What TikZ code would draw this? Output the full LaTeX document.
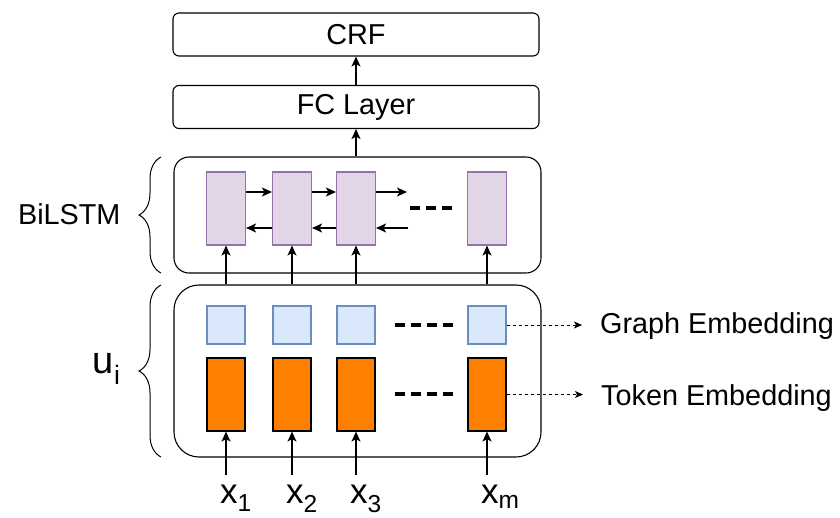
\documentclass[tikz,border=0pt]{standalone}
\usepackage{fontspec}
\setmainfont{Liberation Sans}
\usetikzlibrary{arrows.meta,positioning,decorations.pathreplacing}
\definecolor{lstmfill}{HTML}{E1D5E7}
\definecolor{lstmdraw}{HTML}{9673A6}
\definecolor{graphfill}{HTML}{DAE8FC}
\definecolor{graphdraw}{HTML}{6C8EBF}
\definecolor{tokenfill}{HTML}{FF8000}

\begin{document}
\begin{tikzpicture}[x=1pt,y=-1pt,
        big/.style={font=\fontsize{28.8}{32}\selectfont},
        layer/.style={draw, line width=1.1pt, rounded corners=6pt, big,
            minimum width=366pt, minimum height=43pt},
        group/.style={draw, line width=1.1pt, minimum width=367pt},
        lstm/.style={draw=lstmdraw, fill=lstmfill, line width=1.1pt,
            minimum width=39pt, minimum height=73pt, inner sep=0pt},
        gemb/.style={draw=graphdraw, fill=graphfill, line width=1.1pt,
            minimum width=38pt, minimum height=38pt, inner sep=0pt},
        temb/.style={draw=black, fill=tokenfill, line width=1.1pt,
            minimum width=38pt, minimum height=73pt, inner sep=0pt},
        arr/.style={-{Stealth[length=10pt,width=9pt,inset=2.5pt]}, line width=1.3pt},
        dotarr/.style={-{Stealth[length=8pt,width=7pt,inset=2pt]}, line width=0.9pt,
            dash pattern=on 3pt off 3pt},
        gap/.style={line width=3.2pt, dash pattern=on 10pt off 6pt},
        brc/.style={decorate, decoration={brace, amplitude=22pt}, line width=1pt}]
    \useasboundingbox (0,0) rectangle (840,517);

    % top layers
    \node[layer] (crf) at (356,34.5) {CRF};
    \node[layer] (fc) at (356,107) {FC Layer};

    % the two groups
    \node[group, rounded corners=15pt, minimum height=116pt] (bilstm) at (357.5,215) {};
    \node[group, rounded corners=25pt, minimum height=172pt] (ui) at (357.5,371) {};

    % cells per column
    \foreach \i/\x/\s in {1/226/1,2/292/2,3/356/3,4/487/m}{
        \node[lstm] (p\i) at (\x,208.5) {};
        \node[gemb] (g\i) at (\x,325) {};
        \node[temb] (t\i) at (\x,394.5) {};
        \node[anchor=north west, inner sep=0pt, font=\fontsize{35}{38}\selectfont]
            (in\i) at (\x-6,485) {x\textsubscript{\s}};
        \draw[arr] (in\i.north -| t\i) ++(0,-10) -- (t\i.south);
        \draw[arr] (ui.north -| p\i) -- (p\i.south);
    }

    % recurrent links
    \coordinate (fwd) at (407,192);
    \coordinate (bwd) at (408,228);
    \draw[arr] ([yshift=16.5pt]p1.east) -- ([yshift=16.5pt]p2.west);
    \draw[arr] ([yshift=16.5pt]p2.east) -- ([yshift=16.5pt]p3.west);
    \draw[arr] ([yshift=16.5pt]p3.east) -- (fwd);
    \draw[arr] ([yshift=-19.5pt]p2.west) -- ([yshift=-19.5pt]p1.east);
    \draw[arr] ([yshift=-19.5pt]p3.west) -- ([yshift=-19.5pt]p2.east);
    \draw[arr] (bwd) -- (bwd -| p3.east);

    % ellipses
    \draw[gap] (410,208) -- (453,208);
    \draw[gap] (395,325) -- (453,325);
    \draw[gap] (395,394) -- (453,394);

    \draw[arr] (bilstm.north -| fc) -- (fc.south);
    \draw[arr] (fc) -- (crf);

    % side labels
    \node[big, anchor=base west, inner sep=0pt] (ge) at (600,333) {Graph Embedding};
    \node[big, anchor=base west, inner sep=0pt] (te) at (601,405) {Token Embedding};
    \draw[dotarr, shorten >=18pt] (g4.east) -- (g4.east -| ge.west);
    \draw[dotarr, shorten >=18pt] (t4.east) -- (t4.east -| te.west);

    \draw[brc] (161,273) -- (161,157);
    \draw[brc] (161,457) -- (161,285);
    \node[big, anchor=east] (bl) at (124,214) {BiLSTM};
    \node[anchor=east, font=\fontsize{38}{42}\selectfont] (ul) at (124,369) {u\textsubscript{i}};
\end{tikzpicture}
\end{document}
